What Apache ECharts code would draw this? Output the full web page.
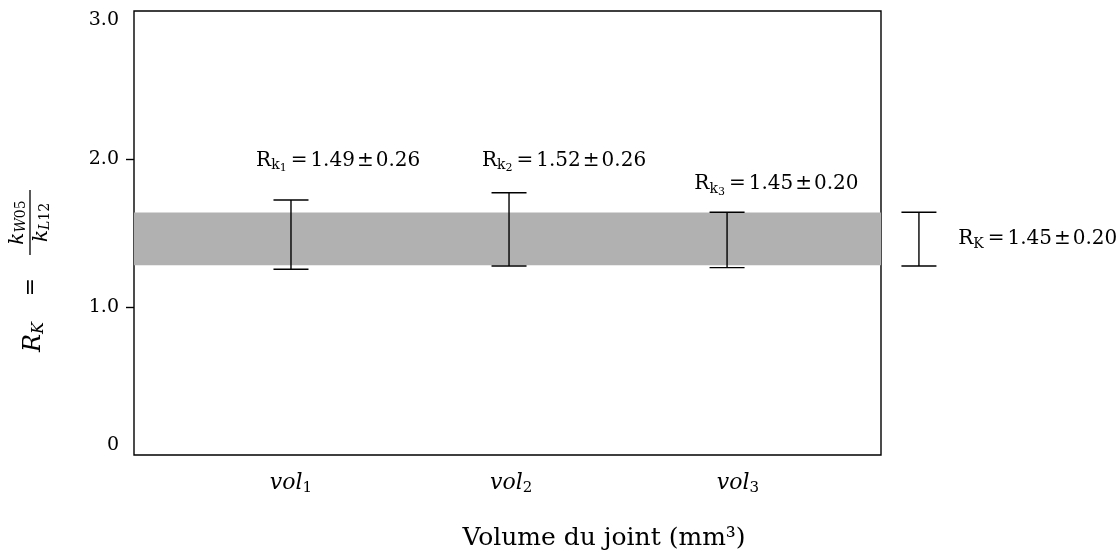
<!DOCTYPE html>
<html>
<head>
<meta charset="utf-8">
<script src="https://cdn.jsdelivr.net/npm/echarts@6/dist/echarts.min.js"></script>
<style>
  html, body { margin: 0; padding: 0; background: #fff; }
  #chart { width: 1119px; height: 555px; }
</style>
</head>
<body>
<div id="chart"></div>
<script>
// ---------- data ----------
const categories = ['vol1', 'vol2', 'vol3'];
const categoryPos = [1, 2.01, 3.05];          // label positions on x axis
const barX = [1, 2, 3];                        // error-bar positions
const barLow = [1.255, 1.277, 1.266];
const barHigh = [1.723, 1.772, 1.640];
const barSub = ['1', '2', '3'];
const barText = ['1.49', '1.52', '1.45'];
const barErr = ['0.26', '0.26', '0.20'];
const annX = [0.84, 1.876, 2.85];
const annY = [1.99, 1.99, 1.83];
const overallX = 3.88;
const overallLow = 1.277;
const overallHigh = 1.640;
const overallText = '1.45';
const overallErr = '0.20';
const overallLabelX = 4.06;
const overallLabelY = 1.46;
const bandLow = 1.282;
const bandHigh = 1.638;
const yTickLabels = [0, 1, 2, 3];
const yTicks = [1, 2];

const SERIF = '"DejaVu Serif", "Liberation Serif", serif';

const chart = echarts.init(document.getElementById('chart'), null, { renderer: 'canvas' });

const annRich = {
  R: { fontFamily: SERIF, fontSize: 20, color: '#000' },
  s: { fontFamily: SERIF, fontSize: 14, color: '#000', padding: [10, 0, 0, 0] },
  ss: { fontFamily: SERIF, fontSize: 11, color: '#000', padding: [16, 0, 0, 0] },
  eq: { fontFamily: SERIF, fontSize: 20, color: '#000', padding: [0, 3, 0, 4] },
  n: { fontFamily: SERIF, fontSize: 20, color: '#000' },
  pm: { fontFamily: SERIF, fontSize: 20, color: '#000', padding: [0, 2, 0, 2] }
};

function errBarItem(params, api) {
  const x = api.value(0), lo = api.value(1), hi = api.value(2);
  const pLo = api.coord([x, lo]);
  const pHi = api.coord([x, hi]);
  const hw = 17.5;
  const st = { stroke: '#000', lineWidth: 1.4 };
  return {
    type: 'group',
    children: [
      { type: 'line', shape: { x1: pLo[0], y1: pLo[1], x2: pHi[0], y2: pHi[1] }, style: st },
      { type: 'line', shape: { x1: pLo[0] - hw, y1: pLo[1], x2: pLo[0] + hw, y2: pLo[1] }, style: st },
      { type: 'line', shape: { x1: pHi[0] - hw, y1: pHi[1], x2: pHi[0] + hw, y2: pHi[1] }, style: st }
    ]
  };
}

const errData = barX.map((x, i) => [x, barLow[i], barHigh[i]]);
errData.push([overallX, overallLow, overallHigh]);

const annData = annX.map((x, i) => [x, annY[i], i]);

const option = {
  animation: false,
  backgroundColor: '#fff',
  grid: {
    left: 134, right: 238, top: 11, bottom: 100,
    show: true, borderColor: '#000', borderWidth: 1.4,
    containLabel: false, outerBoundsMode: 'none'
  },
  xAxis: {
    type: 'value',
    min: 0.28, max: 3.706,
    splitLine: { show: false },
    axisLine: { show: false },
    axisTick: { show: false },
    axisLabel: {
      customValues: categoryPos,
      margin: 16,
      formatter: function (v) {
        const i = categoryPos.indexOf(v);
        if (i < 0) return '';
        const c = categories[i];
        return '{i|' + c.slice(0, 3) + '}{s|' + c.slice(3) + '}';
      },
      rich: {
        i: { fontFamily: SERIF, fontStyle: 'italic', fontSize: 22, color: '#000' },
        s: { fontFamily: SERIF, fontSize: 15, color: '#000', padding: [10, 0, 0, 0] }
      }
    },
    name: 'Volume du joint (mm³)',
    nameLocation: 'middle',
    nameGap: 71,
    nameTextStyle: { fontFamily: SERIF, fontSize: 25, color: '#000', padding: [0, 0, 0, 193] }
  },
  yAxis: {
    type: 'value',
    min: 0, max: 3,
    splitLine: { show: false },
    axisLine: { show: false },
    axisTick: { show: true, customValues: yTicks, length: 8, lineStyle: { color: '#000', width: 1.4 } },
    axisLabel: {
      customValues: yTickLabels,
      margin: 15,
      color: '#000',
      fontFamily: SERIF,
      fontSize: 19,
      verticalAlignMinLabel: 'bottom',
      verticalAlignMaxLabel: 'top',
      formatter: function (v) { return v === 0 ? '0' : v.toFixed(1); }
    }
  },
  graphic: [{
    type: 'group',
    x: 30, y: 272,
    rotation: Math.PI / 2,
    children: [
      {
        type: 'text', x: -50, y: 4,
        style: {
          text: '{m|R}{ms|K}', align: 'right', verticalAlign: 'middle',
          rich: {
            m: { fontFamily: SERIF, fontStyle: 'italic', fontSize: 24, color: '#000' },
            ms: { fontFamily: SERIF, fontStyle: 'italic', fontSize: 16, color: '#000', padding: [10, 0, 0, 0] }
          }
        }
      },
      {
        type: 'text', x: -15, y: 1,
        style: { text: '=', align: 'center', verticalAlign: 'middle', fontFamily: SERIF, fontSize: 22, fill: '#000' }
      },
      {
        type: 'line', shape: { x1: 17, y1: 0, x2: 82, y2: 0 }, style: { stroke: '#000', lineWidth: 1.3 }
      },
      {
        type: 'text', x: 49.5, y: -12,
        style: {
          text: '{m|k}{ms|W}{d|05}', align: 'center', verticalAlign: 'middle',
          rich: {
            m: { fontFamily: SERIF, fontStyle: 'italic', fontSize: 20, color: '#000' },
            ms: { fontFamily: SERIF, fontStyle: 'italic', fontSize: 14, color: '#000', padding: [6, 0, 0, 0] },
            d: { fontFamily: SERIF, fontSize: 14, color: '#000', padding: [6, 0, 0, 0] }
          }
        }
      },
      {
        type: 'text', x: 49.5, y: 12,
        style: {
          text: '{m|k}{ms|L}{d|12}', align: 'center', verticalAlign: 'middle',
          rich: {
            m: { fontFamily: SERIF, fontStyle: 'italic', fontSize: 20, color: '#000' },
            ms: { fontFamily: SERIF, fontStyle: 'italic', fontSize: 14, color: '#000', padding: [6, 0, 0, 0] },
            d: { fontFamily: SERIF, fontSize: 14, color: '#000', padding: [6, 0, 0, 0] }
          }
        }
      }
    ]
  }],
  series: [
    {
      name: 'band',
      type: 'custom',
      z: 1,
      silent: true,
      data: [[bandLow, bandHigh]],
      encode: { y: [0, 1] },
      renderItem: function (params, api) {
        const cs = params.coordSys;
        const pLo = api.coord([0.28, api.value(0)]);
        const pHi = api.coord([0.28, api.value(1)]);
        return {
          type: 'rect',
          shape: { x: cs.x, y: pHi[1], width: cs.width, height: pLo[1] - pHi[1] },
          style: { fill: '#b1b1b1' }
        };
      }
    },
    {
      name: 'errorbars',
      type: 'custom',
      z: 3,
      clip: false,
      silent: true,
      data: errData,
      encode: { x: 0, y: [1, 2] },
      renderItem: errBarItem
    },
    {
      name: 'labels',
      type: 'custom',
      z: 4,
      clip: false,
      silent: true,
      data: annData,
      encode: { x: 0, y: 1 },
      renderItem: function (params, api) {
        const i = api.value(2);
        const p = api.coord([api.value(0), api.value(1)]);
        return {
          type: 'text', x: p[0], y: p[1],
          style: {
            text: '{R|R}{s|k}{ss|' + barSub[i] + '}{eq|=}{n|' + barText[i] + '}{pm|±}{n|' + barErr[i] + '}',
            align: 'left', verticalAlign: 'middle',
            rich: annRich
          }
        };
      }
    },
    {
      name: 'overallLabel',
      type: 'custom',
      z: 4,
      clip: false,
      silent: true,
      data: [[overallLabelX, overallLabelY]],
      encode: { x: 0, y: 1 },
      renderItem: function (params, api) {
        const p = api.coord([api.value(0), api.value(1)]);
        return {
          type: 'text', x: p[0], y: p[1],
          style: {
            text: '{R|R}{s|K}{eq|=}{n|' + overallText + '}{pm|±}{n|' + overallErr + '}',
            align: 'left', verticalAlign: 'middle',
            rich: annRich
          }
        };
      }
    }
  ]
};

chart.setOption(option);
</script>
</body>
</html>
